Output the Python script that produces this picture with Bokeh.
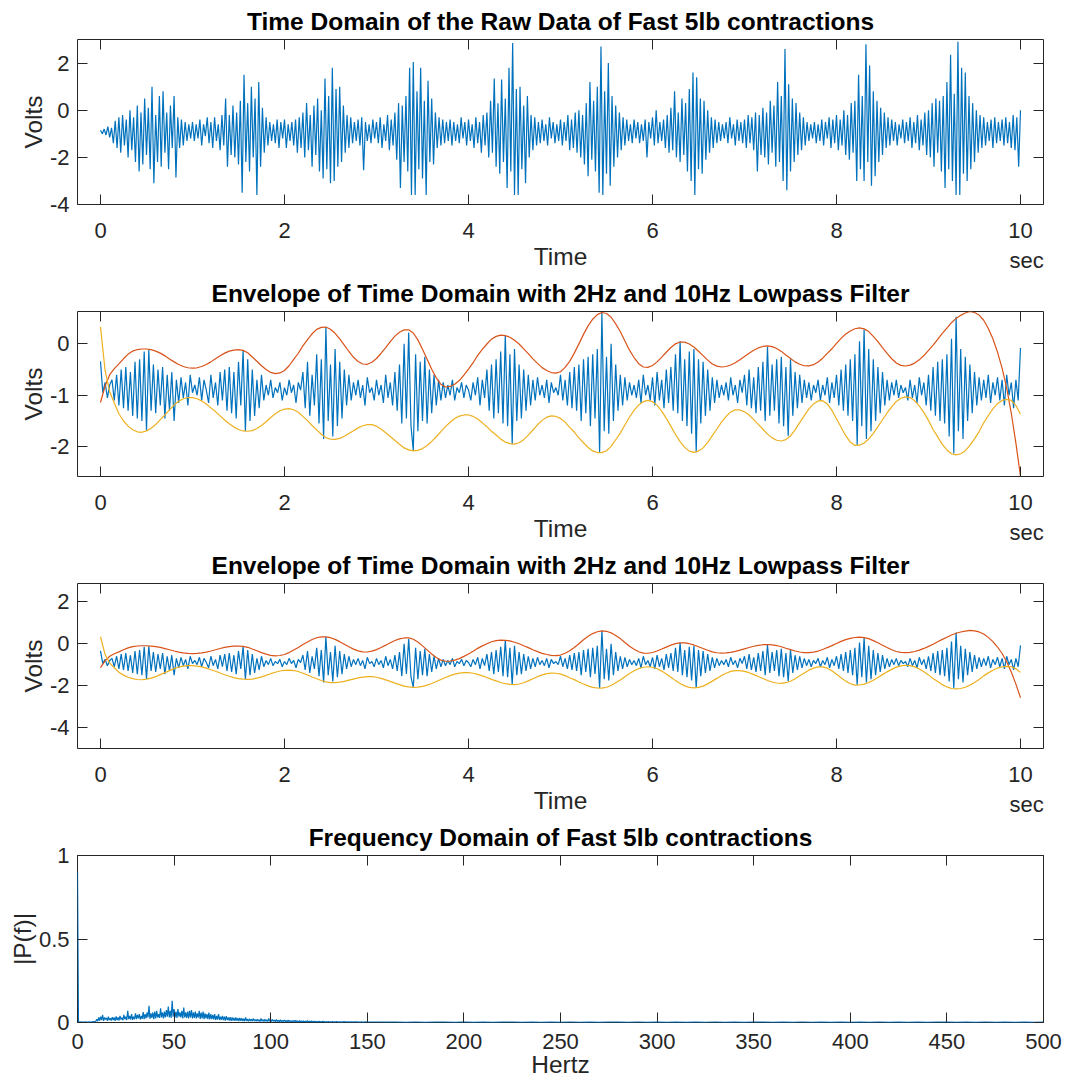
import numpy as np
from bokeh.plotting import figure
from bokeh.layouts import column
from bokeh.models import Range1d, LinearAxis, FixedTicker, CustomJSTickFormatter
from bokeh.embed import file_html
from bokeh.resources import INLINE

# ---------------- data ----------------
# Panel 1: raw EMG signal, one value every 0.02 s from 0 to 10 s
raw_volts = [
    -0.85, -1.0, -0.8, -1.05, -0.7, -1.15, -0.75, -1.4, -0.45, -1.6,
    -0.3, -1.8, -0.2, -1.5, -0.4, -2.0, 0.0, -1.7, -0.3, -2.2,
    0.2, -2.6, -0.1, -2.3, 0.5, -1.9, 0.1, -2.5, 1.0, -3.1,
    -0.2, -2.2, 0.6, -2.4, 0.8, -1.8, -0.1, -2.5, 0.2, -1.6,
    0.6, -2.85, -0.3, -1.6, -0.4, -1.5, -0.5, -1.3, -0.6, -1.2,
    -0.5, -1.3, -0.6, -1.2, -0.4, -1.5, -0.6, -1.1, -0.3, -1.4,
    -0.5, -1.6, -0.3, -1.3, -0.6, -1.7, -0.2, -1.5, 0.5, -2.4,
    -0.2, -1.9, 0.2, -2.0, -0.1, -2.3, 0.4, -3.5, 1.5, -2.2,
    0.3, -2.6, 1.0, -2.0, 0.5, -3.6, 1.2, -2.4, 0.1, -1.8,
    -0.3, -1.5, -0.5, -1.3, -0.6, -1.4, -0.4, -1.6, -0.5, -1.2,
    -0.4, -1.6, -0.6, -1.3, -0.5, -1.5, -0.4, -1.8, -0.3, -1.6,
    -0.1, -2.0, 0.3, -1.7, -0.2, -2.4, 0.2, -1.9, 0.5, -2.6,
    0.0, -2.9, 1.35, -2.5, 0.6, -3.1, 1.8, -3.0, 0.9, -2.4,
    1.0, -2.2, 0.2, -1.8, -0.2, -1.6, -0.3, -1.4, -0.5, -1.3,
    -0.4, -1.5, -0.3, -2.55, -0.5, -1.3, -0.6, -1.4, -0.4, -1.2,
    -0.5, -1.4, -0.3, -1.6, -0.6, -1.3, -0.2, -1.7, -0.4, -1.5,
    -0.1, -2.1, 0.3, -3.3, 0.2, -2.2, 0.6, -2.6, 1.8, -3.6,
    2.05, -3.6, 0.8, -2.5, 1.8, -2.9, 0.4, -3.6, 1.25, -2.2,
    0.5, -2.3, -0.1, -1.6, -0.3, -1.5, -0.4, -1.4, -0.5, -1.3,
    -0.4, -1.5, -0.5, -1.3, -0.6, -1.4, -0.3, -1.2, -0.5, -1.5,
    -0.4, -1.3, -0.6, -1.6, -0.3, -1.4, -0.5, -1.8, -0.2, -1.5,
    -0.1, -2.0, 0.4, -1.8, 1.35, -2.4, 0.3, -2.7, 1.3, -2.2,
    0.5, -3.3, 1.8, -2.6, 2.85, -3.6, 0.9, -3.6, 1.0, -2.5,
    0.2, -3.1, 0.6, -2.0, -0.2, -1.7, -0.3, -1.5, -0.5, -1.4,
    -0.4, -1.3, -0.6, -1.5, -0.3, -1.2, -0.5, -1.4, -0.6, -1.3,
    -0.4, -1.5, -0.5, -1.3, -0.2, -1.7, -0.4, -1.6, -0.1, -1.8,
    0.0, -2.0, -0.2, -2.3, 0.3, -2.8, 1.2, -2.1, 0.4, -2.6,
    1.0, -3.5, 2.7, -3.6, 0.8, -2.7, 2.0, -3.2, 0.6, -2.4,
    0.2, -2.0, -0.1, -1.7, -0.3, -1.5, -0.4, -1.3, -0.6, -1.4,
    -0.4, -1.2, -0.5, -1.4, -0.6, -1.3, -0.4, -2.0, -0.5, -1.2,
    -0.3, -1.5, 0.0, -1.4, -0.5, -1.3, -0.4, -1.6, -0.2, -1.8,
    0.1, -1.7, 0.8, -2.0, -0.1, -2.2, 0.5, -1.9, 0.3, -2.6,
    0.9, -3.0, 1.6, -3.6, 1.4, -2.5, 0.5, -2.7, 0.4, -2.1,
    0.0, -1.8, -0.3, -1.6, -0.4, -1.4, -0.5, -1.3, -0.6, -1.2,
    -0.5, -1.4, -0.3, -1.2, -0.6, -1.5, -0.4, -1.3, -0.5, -1.4,
    -0.4, -1.6, -0.2, -1.4, -0.3, -1.7, -0.1, -2.6, -0.2, -1.9,
    0.1, -2.0, -0.1, -2.3, 0.4, -1.8, 0.2, -2.4, 1.2, -2.2,
    0.6, -3.0, 2.6, -3.4, 1.1, -2.6, 0.5, -2.2, 0.3, -1.9,
    -0.1, -1.7, -0.3, -1.5, -0.5, -1.3, -0.6, -1.2, -0.5, -1.4,
    -0.6, -1.3, -0.4, -1.5, -0.5, -1.2, -0.3, -1.6, -0.4, -1.4,
    -0.2, -1.7, -0.4, -1.5, 0.0, -1.9, -0.2, -2.1, 0.3, -1.8,
    0.4, -3.0, 1.5, -2.5, 0.6, -3.0, 2.8, -2.2, 1.9, -3.2,
    0.8, -2.8, 0.4, -2.2, 0.1, -1.9, -0.1, -1.6, -0.3, -1.5,
    -0.4, -1.3, -0.5, -1.5, -0.6, -1.2, -0.4, -1.4, -0.5, -1.3,
    -0.3, -1.6, -0.5, -1.4, -0.2, -1.7, -0.4, -1.5, -0.1, -1.9,
    0.0, -2.0, 0.3, -2.4, 0.5, -1.8, 0.4, -2.6, 0.6, -3.3,
    1.2, -2.5, 2.35, -3.0, 0.7, -3.6, 2.9, -3.6, 1.8, -2.7,
    1.6, -3.0, 0.6, -2.5, 0.3, -2.2, 0.0, -1.8, -0.2, -1.6,
    -0.3, -1.5, -0.5, -1.3, -0.4, -1.6, -0.3, -1.4, -0.5, -1.3,
    -0.4, -1.5, -0.3, -1.4, -0.5, -1.6, -0.2, -1.7, -0.3, -2.4,
    0.0,
]

# Panels 2 and 3: smoothed signal, one value every 0.025 s
smooth_volts = [
    -0.34, -0.95, -0.75, -1.05, -0.8, -0.7, -1.1, -0.6,
    -1.2, -0.5, -1.25, -0.45, -1.3, -0.55, -1.4, -0.35,
    -1.45, -0.3, -1.5, -0.15, -1.68, -0.12, -1.3, -0.4,
    -1.35, -0.5, -1.2, -0.45, -1.45, -0.6, -1.3, -0.55,
    -1.5, -0.7, -1.15, -0.65, -1.05, -0.75, -1.2, -0.6,
    -0.95, -0.8, -1.0, -0.65, -1.1, -0.7, -0.9, -1.15,
    -0.6, -1.05, -0.75, -1.2, -0.55, -1.1, -0.5, -1.3,
    -0.45, -1.35, -0.55, -1.45, -0.35, -1.2, -0.13, -1.7,
    -0.3, -1.5, -0.5, -1.4, -0.7, -1.25, -0.6, -1.1,
    -0.8, -1.0, -0.7, -1.05, -0.85, -0.95, -0.75, -1.1,
    -0.85, -1.0, -0.7, -0.95, -0.8, -1.15, -0.75, -0.9,
    -0.55, -1.25, -0.35, -1.4, -0.6, -1.2, -0.2, -1.55,
    -0.3, -1.85, 0.33, -1.5, -0.4, -1.8, -0.1, -1.6,
    -0.35, -1.45, -0.5, -1.2, -0.6, -1.1, -0.75, -1.0,
    -0.7, -1.05, -0.8, -1.2, -0.65, -0.95, -0.85, -1.1,
    -0.7, -1.0, -0.8, -1.15, -0.6, -1.05, -0.75, -1.2,
    -0.55, -1.3, -0.4, -1.55, 0.0, -1.45, 0.22, -1.6,
    -2.08, -0.2, -1.7, -0.35, -1.5, -0.25, -1.55, -0.5,
    -1.35, -0.6, -1.2, -0.7, -1.1, -0.75, -1.05, -0.8,
    -1.0, -0.7, -1.1, -0.85, -0.95, -0.75, -1.05, -0.8,
    -0.9, -1.1, -0.75, -1.0, -0.65, -1.2, -0.7, -1.05,
    -0.5, -1.3, -0.4, -1.45, -0.3, -1.35, -0.15, -1.55,
    0.17, -1.6, -0.2, -1.95, -0.1, -1.5, -0.4, -1.45,
    -0.5, -1.3, -0.6, -1.2, -0.7, -1.1, -0.65, -1.0,
    -0.8, -1.05, -0.7, -1.15, -0.75, -0.95, -0.85, -1.0,
    -0.6, -1.1, -0.7, -1.2, -0.55, -1.25, -0.45, -1.3,
    -0.4, -1.5, -0.3, -1.35, -0.25, -1.6, -0.2, -1.45,
    -0.1, -2.12, 0.61, -1.7, -0.25, -1.75, 0.0, -1.5,
    -0.4, -1.3, -0.6, -1.2, -0.65, -1.1, -0.75, -1.0,
    -0.8, -1.05, -0.7, -1.15, -0.6, -1.0, -0.8, -1.1,
    -0.65, -1.2, -0.55, -1.1, -0.7, -1.25, -0.5, -1.15,
    -0.45, -1.3, -0.2, -1.35, 0.05, -1.5, -0.3, -1.6,
    -0.15, -1.75, -0.1, -2.11, -0.3, -1.55, -0.35, -1.4,
    -0.5, -1.3, -0.65, -1.15, -0.7, -1.05, -0.8, -1.0,
    -0.75, -1.1, -0.65, -1.0, -0.8, -1.15, -0.7, -0.95,
    -0.6, -1.2, -0.5, -1.25, -0.65, -1.35, -0.45, -1.3,
    -0.35, -1.5, -0.06, -1.4, -0.4, -1.3, -0.3, -1.55,
    -0.25, -1.6, -0.45, -1.79, -0.3, -1.4, -0.55, -1.25,
    -0.6, -1.15, -0.7, -1.05, -0.75, -1.1, -0.8, -0.95,
    -0.7, -1.1, -0.8, -1.0, -0.65, -1.15, -0.75, -1.05,
    -0.6, -1.2, -0.5, -1.3, -0.4, -1.4, -0.3, -1.5,
    -0.2, -1.97, 0.05, -1.6, 0.28, -1.85, -0.1, -1.7,
    -0.3, -1.5, -0.45, -1.35, -0.55, -1.2, -0.7, -1.1,
    -0.75, -1.0, -0.7, -1.05, -0.8, -0.95, -0.85, -1.1,
    -0.7, -1.05, -0.8, -1.15, -0.65, -1.0, -0.75, -1.2,
    -0.6, -1.3, -0.45, -1.4, -0.35, -1.5, -0.3, -1.55,
    -0.2, -1.8, 0.1, -2.13, 0.53, -1.7, -0.1, -1.85,
    -0.25, -1.5, -0.4, -1.35, -0.55, -1.2, -0.65, -1.1,
    -0.7, -1.05, -0.6, -1.15, -0.75, -1.0, -0.65, -1.1,
    -0.7, -1.2, -0.6, -1.0, -0.75, -1.25, -0.7, -1.1,
    -0.08,
]

# Upper envelope (2 Hz lowpass) and lower envelope, one value every 0.05 s
upper_env = [
    -1.14, -0.82, -0.60, -0.48, -0.39, -0.29, -0.20, -0.14, -0.11, -0.10,
    -0.10, -0.113, -0.14, -0.18, -0.233, -0.292, -0.35, -0.40, -0.44, -0.464,
    -0.47, -0.465, -0.44, -0.40, -0.35, -0.29, -0.23, -0.18, -0.14, -0.12,
    -0.11, -0.126, -0.173, -0.256, -0.337, -0.425, -0.50, -0.555, -0.58, -0.565,
    -0.517, -0.425, -0.30, -0.182, -0.04, 0.082, 0.197, 0.282, 0.322, 0.327,
    0.285, 0.206, 0.096, -0.023, -0.148, -0.261, -0.343, -0.391, -0.397, -0.358,
    -0.284, -0.182, -0.071, 0.045, 0.151, 0.227, 0.272, 0.273, 0.212, 0.078,
    -0.106, -0.298, -0.493, -0.661, -0.787, -0.839, -0.828, -0.785, -0.714, -0.606,
    -0.49, -0.366, -0.224, -0.106, -0.002, 0.091, 0.146, 0.169, 0.161, 0.13,
    0.07, -0.002, -0.096, -0.188, -0.292, -0.378, -0.462, -0.518, -0.558, -0.57,
    -0.542, -0.458, -0.34, -0.18, 0.0, 0.185, 0.35, 0.48, 0.569, 0.61,
    0.591, 0.518, 0.39, 0.241, 0.058, -0.122, -0.266, -0.385, -0.45, -0.457,
    -0.42, -0.35, -0.257, -0.163, -0.07, 0.001, 0.037, 0.034, -0.002, -0.061,
    -0.144, -0.228, -0.316, -0.39, -0.433, -0.45, -0.44, -0.411, -0.366, -0.309,
    -0.245, -0.181, -0.124, -0.079, -0.05, -0.04, -0.054, -0.089, -0.146, -0.217,
    -0.283, -0.35, -0.396, -0.425, -0.428, -0.404, -0.352, -0.278, -0.186, -0.095,
    0.01, 0.108, 0.192, 0.252, 0.295, 0.31, 0.292, 0.24, 0.147, 0.044,
    -0.072, -0.186, -0.289, -0.372, -0.418, -0.43, -0.413, -0.374, -0.31, -0.227,
    -0.128, -0.024, 0.09, 0.204, 0.308, 0.412, 0.496, 0.555, 0.60, 0.63,
    0.61, 0.56, 0.46, 0.30, 0.10, -0.16, -0.47, -0.86, -1.35, -1.93,
    -2.58,
]
lower_env = [
    0.33, -0.52, -0.93, -1.15, -1.36, -1.50, -1.60, -1.67, -1.71, -1.72,
    -1.692, -1.642, -1.57, -1.475, -1.38, -1.285, -1.19, -1.115, -1.067, -1.043,
    -1.044, -1.067, -1.109, -1.169, -1.245, -1.317, -1.401, -1.482, -1.555, -1.619,
    -1.665, -1.694, -1.70, -1.687, -1.645, -1.586, -1.515, -1.432, -1.361, -1.302,
    -1.269, -1.26, -1.281, -1.329, -1.41, -1.494, -1.588, -1.674, -1.758, -1.824,
    -1.855, -1.858, -1.838, -1.796, -1.742, -1.688, -1.634, -1.593, -1.572, -1.572,
    -1.601, -1.657, -1.728, -1.801, -1.881, -1.953, -2.024, -2.062, -2.08, -2.072,
    -2.037, -1.978, -1.898, -1.807, -1.708, -1.611, -1.524, -1.45, -1.405, -1.383,
    -1.383, -1.411, -1.463, -1.536, -1.611, -1.701, -1.773, -1.853, -1.91, -1.941,
    -1.95, -1.924, -1.863, -1.774, -1.675, -1.574, -1.488, -1.426, -1.40, -1.412,
    -1.45, -1.522, -1.623, -1.715, -1.828, -1.923, -2.015, -2.082, -2.114, -2.116,
    -2.078, -1.993, -1.865, -1.736, -1.578, -1.422, -1.294, -1.188, -1.124, -1.10,
    -1.124, -1.196, -1.308, -1.448, -1.605, -1.762, -1.902, -2.014, -2.086, -2.11,
    -2.085, -2.023, -1.917, -1.786, -1.656, -1.521, -1.413, -1.324, -1.283, -1.285,
    -1.322, -1.384, -1.475, -1.566, -1.661, -1.756, -1.829, -1.875, -1.89, -1.862,
    -1.791, -1.674, -1.532, -1.397, -1.263, -1.168, -1.11, -1.105, -1.168, -1.294,
    -1.457, -1.623, -1.786, -1.911, -1.975, -1.971, -1.929, -1.852, -1.742, -1.609,
    -1.476, -1.344, -1.226, -1.12, -1.058, -1.03, -1.044, -1.108, -1.209, -1.338,
    -1.489, -1.666, -1.81, -1.955, -2.063, -2.137, -2.16, -2.138, -2.077, -1.976,
    -1.847, -1.706, -1.536, -1.393, -1.264, -1.164, -1.10, -1.08, -1.10, -1.20,
    -1.37,
]

# Panel 4: single-sided spectrum |P(f)|; 0.5 Hz steps to 150 Hz, then 5 Hz steps
spec_low = [
    0.90,
    0.005, 0.003, 0.002, 0.004, 0.002, 0.003, 0.002, 0.004, 0.003, 0.002,
    0.003, 0.004, 0.002, 0.003, 0.004, 0.005, 0.004, 0.006, 0.008,
    0.02, 0.008, 0.03, 0.012, 0.035, 0.015, 0.045, 0.01, 0.03, 0.018,
    0.028, 0.01, 0.035, 0.015, 0.025, 0.012, 0.032, 0.014, 0.03, 0.01,
    0.036, 0.015, 0.03, 0.012, 0.04, 0.018, 0.028, 0.014, 0.045, 0.02,
    0.035, 0.015, 0.07, 0.02, 0.04, 0.018, 0.05, 0.016, 0.035, 0.02,
    0.055, 0.02, 0.045, 0.025, 0.05, 0.018, 0.04, 0.022, 0.062, 0.02,
    0.05, 0.025, 0.06, 0.03, 0.1, 0.022, 0.055, 0.028, 0.06, 0.02,
    0.065, 0.025, 0.07, 0.03, 0.05, 0.028, 0.085, 0.03, 0.06, 0.025,
    0.065, 0.03, 0.075, 0.035, 0.095, 0.03, 0.07, 0.028, 0.13, 0.035,
    0.08, 0.03, 0.065, 0.028, 0.08, 0.035, 0.06, 0.03, 0.07, 0.025,
    0.09, 0.03, 0.06, 0.028, 0.065, 0.025, 0.07, 0.03, 0.075, 0.025,
    0.06, 0.028, 0.065, 0.025, 0.055, 0.03, 0.07, 0.022, 0.06, 0.025,
    0.065, 0.02, 0.055, 0.025, 0.05, 0.02, 0.06, 0.018, 0.05, 0.02,
    0.045, 0.018, 0.05, 0.015, 0.04, 0.018, 0.05, 0.015, 0.035, 0.016,
    0.04, 0.014, 0.035, 0.012, 0.038, 0.014, 0.03, 0.012, 0.032, 0.01,
    0.03, 0.012, 0.028, 0.01, 0.03, 0.011, 0.025, 0.009, 0.028, 0.01,
    0.025, 0.009, 0.022, 0.008, 0.03, 0.01, 0.02, 0.008, 0.022, 0.009,
    0.02, 0.008, 0.025, 0.008, 0.018, 0.007, 0.02, 0.008, 0.017, 0.006,
    0.024, 0.007, 0.018, 0.006, 0.02, 0.007, 0.016, 0.006, 0.025, 0.007,
    0.02, 0.006, 0.018, 0.007, 0.015, 0.005, 0.018, 0.006, 0.013, 0.005,
    0.016, 0.005, 0.013, 0.006, 0.015, 0.005, 0.012, 0.004, 0.014, 0.005,
    0.012, 0.004, 0.011, 0.005, 0.012, 0.004, 0.013, 0.004, 0.01, 0.004,
    0.011, 0.004, 0.009, 0.003, 0.01, 0.004, 0.008, 0.003, 0.012, 0.004,
    0.008, 0.003, 0.009, 0.003, 0.007, 0.003, 0.008, 0.003, 0.006, 0.003,
    0.007, 0.003, 0.006, 0.002, 0.008, 0.003, 0.005, 0.002, 0.006, 0.002,
    0.006, 0.002, 0.005, 0.002, 0.007, 0.002, 0.005, 0.002, 0.006, 0.002,
    0.005, 0.002, 0.004, 0.002, 0.005, 0.002, 0.006, 0.002, 0.004, 0.002,
    0.004, 0.002, 0.005, 0.002, 0.004, 0.001, 0.004, 0.002, 0.005, 0.002,
    0.004, 0.002, 0.003, 0.002, 0.004, 0.001, 0.003, 0.002, 0.004, 0.002,
    0.003,
]
spec_low_hz = list(np.linspace(0, 150, len(spec_low)))
spec_high = [
    0.003, 0.002,
    0.002, 0.001, 0.003, 0.001, 0.002, 0.002, 0.001, 0.003, 0.001, 0.002,
    0.001, 0.002, 0.003, 0.001, 0.002, 0.001, 0.002, 0.001, 0.003, 0.001,
    0.002, 0.001, 0.002, 0.002, 0.001, 0.003, 0.001, 0.002, 0.001, 0.002,
    0.001, 0.002, 0.001, 0.003, 0.001, 0.002, 0.001, 0.002, 0.002, 0.001,
    0.002, 0.001, 0.003, 0.001, 0.002, 0.001, 0.002, 0.001, 0.002, 0.001,
    0.003, 0.001, 0.002, 0.001, 0.002, 0.001, 0.002, 0.002, 0.001, 0.002,
    0.001, 0.003, 0.001, 0.002, 0.001, 0.002, 0.001, 0.002,
]
spec_high_hz = list(range(155, 501, 5))

time_ticks = [0, 2, 4, 6, 8, 10]
time_labels = {0: "0", 2: "2", 4: "4", 6: "6", 8: "8", 10: "10\n\u00a0\u00a0sec"}
hz_ticks = [0, 50, 100, 150, 200, 250, 300, 350, 400, 450, 500]
volt_ticks_wide = [-4, -2, 0, 2]
volt_labels_wide = {-4: "-4", -2: "-2", 0: "0", 2: "2"}
volt_ticks_env = [-2, -1, 0]
volt_labels_env = {-2: "-2", -1: "-1", 0: "0"}
mag_ticks = [0, 0.5, 1]
mag_labels = {0: "0", 0.5: "0.5", 1: "1"}

# ---------------- styling ----------------
FONT = "Liberation Sans"
AXC = "#262626"
BLUE = "#0072BD"
ORANGE = "#D95319"
YELLOW = "#EDB120"
W = 1066
LEFT = 77
FRAME_W = 966
FRAME_H = 169
TOP = 37
LW = 1.2
TICK_FS = "22px"
LABEL_FS = "24.5px"

t_raw = np.linspace(0, 10, len(raw_volts))
t_smooth = np.linspace(0, 10, len(smooth_volts))
t_env = np.linspace(0, 10, len(upper_env))


def style_axis(ax, ticks, overrides=None, label=None, show_labels=True,
               standoff=10, label_standoff=5):
    ax.ticker = FixedTicker(ticks=ticks)
    ax.major_tick_in = 10
    ax.major_tick_out = 0
    ax.minor_tick_line_color = None
    ax.major_tick_line_color = AXC
    ax.major_tick_line_width = 1
    ax.axis_line_color = None
    ax.major_label_text_font = FONT
    ax.major_label_text_font_size = TICK_FS
    ax.major_label_text_color = AXC
    ax.major_label_standoff = standoff
    if overrides:
        ax.major_label_overrides = overrides
    if label:
        ax.axis_label = label
        ax.axis_label_text_font = FONT
        ax.axis_label_text_font_size = LABEL_FS
        ax.axis_label_text_font_style = "normal"
        ax.axis_label_text_color = AXC
        ax.axis_label_standoff = label_standoff
    if not show_labels:
        ax.formatter = CustomJSTickFormatter(code="return ''")
        ax.major_label_text_font_size = "0px"
        ax.major_label_standoff = 0


def make_fig(height, title, xr, yr, xticks, xlabels, yticks, ylabels, ylabel, xlabel,
             xtick_standoff, xlab_standoff, ylab_standoff=0):
    bottom = height - TOP - FRAME_H
    p = figure(width=W, height=height, x_range=Range1d(*xr), y_range=Range1d(*yr),
               output_backend="svg", toolbar_location=None,
               min_border_left=LEFT, min_border_right=W - LEFT - FRAME_W,
               min_border_top=TOP, min_border_bottom=bottom)
    p.title.text = title
    p.title.text_font = FONT
    p.title.text_font_size = "24.5px"
    p.title.text_font_style = "bold"
    p.title.text_color = "#000000"
    p.title.align = "center"
    p.title.standoff = 10
    p.xgrid.visible = False
    p.ygrid.visible = False
    p.outline_line_color = AXC
    p.outline_line_width = 1
    p.outline_line_alpha = 1
    p.background_fill_color = "white"
    p.border_fill_color = "white"
    style_axis(p.xaxis[0], xticks, overrides=xlabels, label=xlabel, standoff=xtick_standoff,
               label_standoff=xlab_standoff)
    style_axis(p.yaxis[0], yticks, overrides=ylabels, label=ylabel, standoff=8,
               label_standoff=ylab_standoff)
    top_ax = LinearAxis()
    right_ax = LinearAxis()
    p.add_layout(top_ax, "above")
    p.add_layout(right_ax, "right")
    style_axis(top_ax, xticks, show_labels=False)
    style_axis(right_ax, yticks, show_labels=False)
    return p


XR = (-0.25, 10.25)
ENV_TITLE = "Envelope of Time Domain with 2Hz and 10Hz Lowpass Filter"

p1 = make_fig(272, "Time Domain of the Raw Data of Fast 5lb contractions", XR, (-4, 3),
              time_ticks, time_labels, volt_ticks_wide, volt_labels_wide, "Volts", "Time",
              13, -33)
p1.line(t_raw, raw_volts, line_color=BLUE, line_width=LW)

p2 = make_fig(272, ENV_TITLE, XR, (-2.58, 0.63), time_ticks, time_labels,
              volt_ticks_env, volt_labels_env, "Volts", "Time", 13, -33)
p2.line(t_smooth, smooth_volts, line_color=BLUE, line_width=LW)
p2.line(t_env, upper_env, line_color=ORANGE, line_width=LW)
p2.line(t_env, lower_env, line_color=YELLOW, line_width=LW)

p3 = make_fig(272, ENV_TITLE, XR, (-5, 2.87), time_ticks, time_labels,
              volt_ticks_wide, volt_labels_wide, "Volts", "Time", 13, -33)
p3.line(t_smooth, smooth_volts, line_color=BLUE, line_width=LW)
p3.line(t_env, upper_env, line_color=ORANGE, line_width=LW)
p3.line(t_env, lower_env, line_color=YELLOW, line_width=LW)

p4 = make_fig(268, "Frequency Domain of Fast 5lb contractions", (0, 500), (0, 1),
              hz_ticks, None, mag_ticks, mag_labels, "|P(f)|", "Hertz", 11, -1)
p4.line(spec_low_hz + spec_high_hz, spec_low + spec_high, line_color=BLUE, line_width=LW)

layout = column(p1, p2, p3, p4, spacing=0)
open("out.html", "w").write(file_html(layout, INLINE))
